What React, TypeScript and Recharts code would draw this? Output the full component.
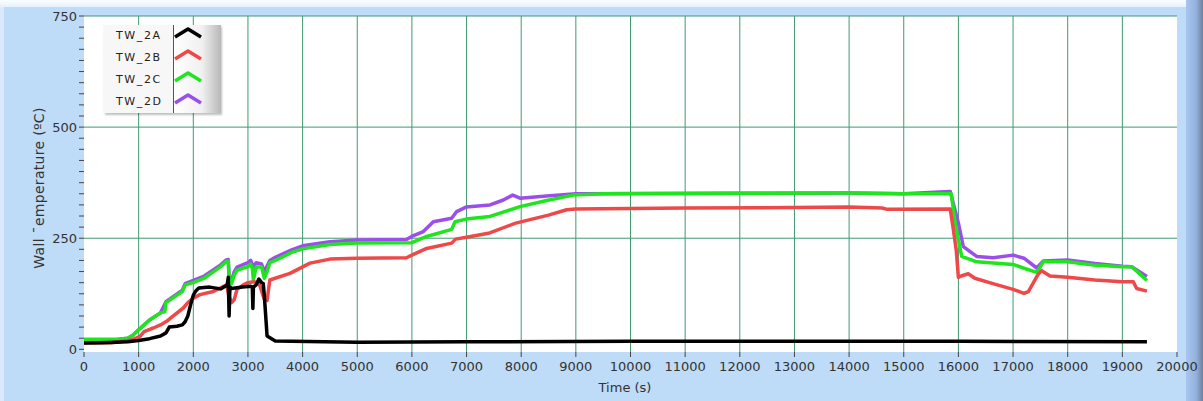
import React from 'react';
import { LineChart, Line, XAxis, YAxis, CartesianGrid, Legend } from 'recharts';

// ---- data (time in s, wall temperature in ºC) ----
const timeA = [0, 300, 600, 800, 1000, 1200, 1400, 1500, 1560, 1700, 1800, 1850, 1900, 1950, 2000, 2050, 2100, 2300, 2500, 2620, 2640, 2655, 2670, 2700, 2900, 3050, 3080, 3090, 3100, 3150, 3200, 3250, 3280, 3300, 3350, 3500, 5000, 7000, 10000, 13000, 16000, 19450];
const tempA = [14, 15, 16, 17, 20, 24, 30, 37, 50, 52, 55, 62, 75, 100, 122, 132, 138, 140, 136, 145, 162, 75, 140, 137, 140, 142, 140, 92, 140, 145, 158, 150, 148, 120, 30, 19, 16, 17, 18, 18, 18, 17];

const timeB = [0, 500, 870, 1025, 1100, 1268, 1400, 1512, 1600, 1817, 1900, 2000, 2122, 2366, 2610, 2650, 2700, 2750, 2800, 2915, 3000, 3100, 3200, 3300, 3350, 3400, 3770, 4135, 4500, 5000, 5900, 6000, 6270, 6728, 6800, 7000, 7400, 7900, 8500, 8832, 9000, 11000, 13000, 14000, 14600, 14700, 15850, 15900, 15960, 16000, 16050, 16180, 16300, 16600, 17000, 17200, 17280, 17350, 17450, 17524, 17676, 18000, 18500, 19000, 19200, 19262, 19450];
const tempB = [14, 15, 21, 29, 40, 48, 55, 63, 72, 93, 105, 115, 123, 130, 145, 120, 105, 112, 135, 145, 150, 152, 150, 112, 110, 156, 171, 194, 203, 205, 206, 212, 227, 239, 248, 252, 261, 284, 302, 314, 316, 318, 319, 320, 318, 315, 316, 276, 224, 162, 165, 170, 160, 149, 135, 126, 130, 145, 167, 177, 165, 162, 156, 152, 152, 137, 131];

const timeC = [0, 600, 800, 900, 1000, 1100, 1200, 1400, 1480, 1500, 1800, 1850, 2000, 2200, 2500, 2600, 2640, 2660, 2700, 2750, 2800, 3000, 3050, 3080, 3100, 3150, 3250, 3300, 3350, 3400, 3500, 3800, 4000, 4500, 5000, 6000, 6270, 6728, 6789, 6990, 7429, 7978, 8466, 8954, 9500, 12000, 14000, 15000, 15870, 15937, 16060, 16334, 16639, 17000, 17188, 17433, 17554, 18000, 18469, 19000, 19171, 19450];
const tempC = [22, 22, 25, 32, 44, 55, 66, 82, 85, 105, 130, 145, 150, 160, 186, 197, 198, 145, 148, 167, 178, 186, 192, 182, 156, 185, 185, 160, 175, 195, 200, 218, 226, 236, 239, 240, 254, 270, 287, 293, 299, 321, 335, 347, 350, 351, 352, 350, 350, 287, 209, 197, 194, 191, 183, 173, 197, 197, 190, 186, 186, 155];

const timeD = [0, 600, 800, 900, 1000, 1200, 1400, 1500, 1800, 1850, 2000, 2200, 2500, 2600, 2640, 2660, 2700, 2750, 2800, 3000, 3050, 3100, 3150, 3250, 3300, 3400, 3500, 3800, 4000, 4500, 5000, 5900, 5996, 6209, 6392, 6728, 6819, 6990, 7429, 7673, 7844, 7978, 8466, 9000, 12000, 14000, 15000, 15850, 16000, 16090, 16334, 16639, 17000, 17200, 17433, 17554, 18000, 18500, 19000, 19171, 19450];
const tempD = [22, 22, 25, 32, 44, 66, 82, 107, 133, 148, 155, 165, 190, 201, 202, 150, 155, 175, 185, 195, 200, 185, 195, 192, 175, 200, 207, 224, 233, 242, 246, 247, 254, 265, 287, 295, 310, 320, 325, 336, 347, 340, 345, 350, 351, 352, 350, 355, 284, 231, 209, 206, 212, 205, 183, 199, 201, 193, 187, 186, 164];

const seriesNames = ['TW_2A', 'TW_2B', 'TW_2C', 'TW_2D'];
const seriesColors = ['#000000', '#EE4848', '#1EE61E', '#9B4FEA'];

const xTicks = [0, 1000, 2000, 3000, 4000, 5000, 6000, 7000, 8000, 9000, 10000, 11000, 12000, 13000, 14000, 15000, 16000, 17000, 18000, 19000, 20000];
const xGrid = [1000, 2000, 3000, 4000, 5000, 6000, 7000, 8000, 9000, 10000, 11000, 12000, 13000, 14000, 15000, 16000, 17000, 18000, 19000];
const yTicks = [0, 25, 50, 75, 100, 125, 150, 175, 200, 225, 250, 275, 300, 325, 350, 375, 400, 425, 450, 475, 500, 525, 550, 575, 600, 625, 650, 675, 700, 725, 750];
const yMajor = [0, 250, 500, 750];
const yGrid = [250, 500, 750];

const xLabel = 'Time (s)';
const yLabel = 'Wall \u00AFemperature (\u00BAC)';

const build = (t: number[], v: number[]) => t.map((x, i) => ({ t: x, v: v[i] }));
const dataA = build(timeA, tempA);
const dataB = build(timeB, tempB);
const dataC = build(timeC, tempC);
const dataD = build(timeD, tempD);

const FONT = '"DejaVu Sans", Verdana, sans-serif';

const YTick = (props: any) => {
  const { x, y, payload } = props;
  if (!yMajor.includes(payload.value)) return <g />;
  return (
    <text x={x} y={y} dy={5} textAnchor="end" fontFamily={FONT} fontSize={13} fill="#333">
      {payload.value}
    </text>
  );
};

const LegendBox = () => (
  <div
    style={{
      width: 117,
      height: 88,
      position: 'relative',
      background: '#f7f7f7',
      boxShadow: '2px 2px 2px rgba(0,0,0,0.25)',
      fontFamily: FONT,
    }}
  >
    <div
      style={{
        position: 'absolute',
        left: 70,
        top: 0,
        width: 47,
        height: 88,
        borderLeft: '1px solid #555',
        background: 'linear-gradient(to right, #ffffff 0%, #f0f0f0 60%, #b8b8b8 100%)',
      }}
    />
    {seriesNames.map((n, i) => (
      <div
        key={n}
        style={{
          position: 'absolute',
          left: 13,
          top: 4 + i * 22,
          fontSize: 11,
          letterSpacing: 1.6,
          color: '#222',
          lineHeight: '14px',
        }}
      >
        {n}
      </div>
    ))}
    <svg style={{ position: 'absolute', left: 0, top: 0 }} width={117} height={88}>
      {seriesColors.map((c, i) => (
        <polyline
          key={c}
          points={`72,${12 + i * 22} 85,${4 + i * 22} 98,${12 + i * 22}`}
          fill="none"
          stroke={c}
          strokeWidth={3.5}
          strokeLinejoin="round"
        />
      ))}
    </svg>
  </div>
);

export default function App() {
  return (
    <div
      style={{
        position: 'fixed',
        left: 0,
        top: 0,
        width: 1203,
        height: 401,
        background: '#BEDBF7',
        overflow: 'hidden',
      }}
    >
      <div style={{ position: 'absolute', left: 0, top: 0, width: 1203, height: 7, background: 'linear-gradient(to bottom, #fbfdff, #e6f1fc)' }} />
      <div style={{ position: 'absolute', left: 0, top: 7, width: 4, height: 394, background: '#d8eafb' }} />
      <div style={{ position: 'absolute', left: 1186, top: 0, width: 17, height: 401, background: 'linear-gradient(to right, #a8c6ef 0%, #93b1dc 60%, #6d7f9c 100%)' }} />
      <div style={{ position: 'absolute', left: 0, top: 0 }}>
        <LineChart width={1203} height={401} margin={{ top: 16, right: 26, bottom: 0, left: 0 }}>
          <CartesianGrid
            fill="#ffffff"
            stroke="#3f9a72"
            strokeWidth={1}
            horizontalValues={yGrid}
            verticalValues={xGrid}
          />
          <XAxis
            type="number"
            dataKey="t"
            domain={[0, 20000]}
            ticks={xTicks}
            interval={0}
            height={49}
            axisLine={false}
            tickSize={5}
            tickMargin={5}
            tickLine={{ stroke: '#444' }}
            tick={{ fontFamily: FONT, fontSize: 13, fill: '#333' }}
            allowDataOverflow
            label={{
              content: () => (
                <text x={625} y={392} textAnchor="middle" fontFamily={FONT} fontSize={13} fill="#333">
                  {xLabel}
                </text>
              ),
            }}
          />
          <YAxis
            type="number"
            domain={[-6, 750]}
            ticks={yTicks}
            interval={0}
            width={84}
            axisLine={false}
            tickSize={5}
            tickMargin={2}
            tickLine={{ stroke: '#444' }}
            tick={<YTick />}
            allowDataOverflow
            label={{
              content: () => (
                <text
                  x={44}
                  y={188}
                  transform="rotate(-90 44 188)"
                  textAnchor="middle"
                  fontFamily={FONT}
                  fontSize={14}
                  letterSpacing={0.3}
                  fill="#333"
                >
                  {yLabel}
                </text>
              ),
            }}
          />
          <Legend
            layout="vertical"
            align="center"
            verticalAlign="middle"
            content={() => <LegendBox />}
            wrapperStyle={{ position: 'absolute', left: 103, top: 25, width: 117, height: 88 }}
          />
          <Line data={dataD} dataKey="v" name={seriesNames[3]} stroke={seriesColors[3]} strokeWidth={3.5} dot={false} isAnimationActive={false} strokeLinejoin="round" />
          <Line data={dataC} dataKey="v" name={seriesNames[2]} stroke={seriesColors[2]} strokeWidth={3.5} dot={false} isAnimationActive={false} strokeLinejoin="round" />
          <Line data={dataB} dataKey="v" name={seriesNames[1]} stroke={seriesColors[1]} strokeWidth={3.5} dot={false} isAnimationActive={false} strokeLinejoin="round" />
          <Line data={dataA} dataKey="v" name={seriesNames[0]} stroke={seriesColors[0]} strokeWidth={3.5} dot={false} isAnimationActive={false} strokeLinejoin="round" />
        </LineChart>
      </div>
    </div>
  );
}
